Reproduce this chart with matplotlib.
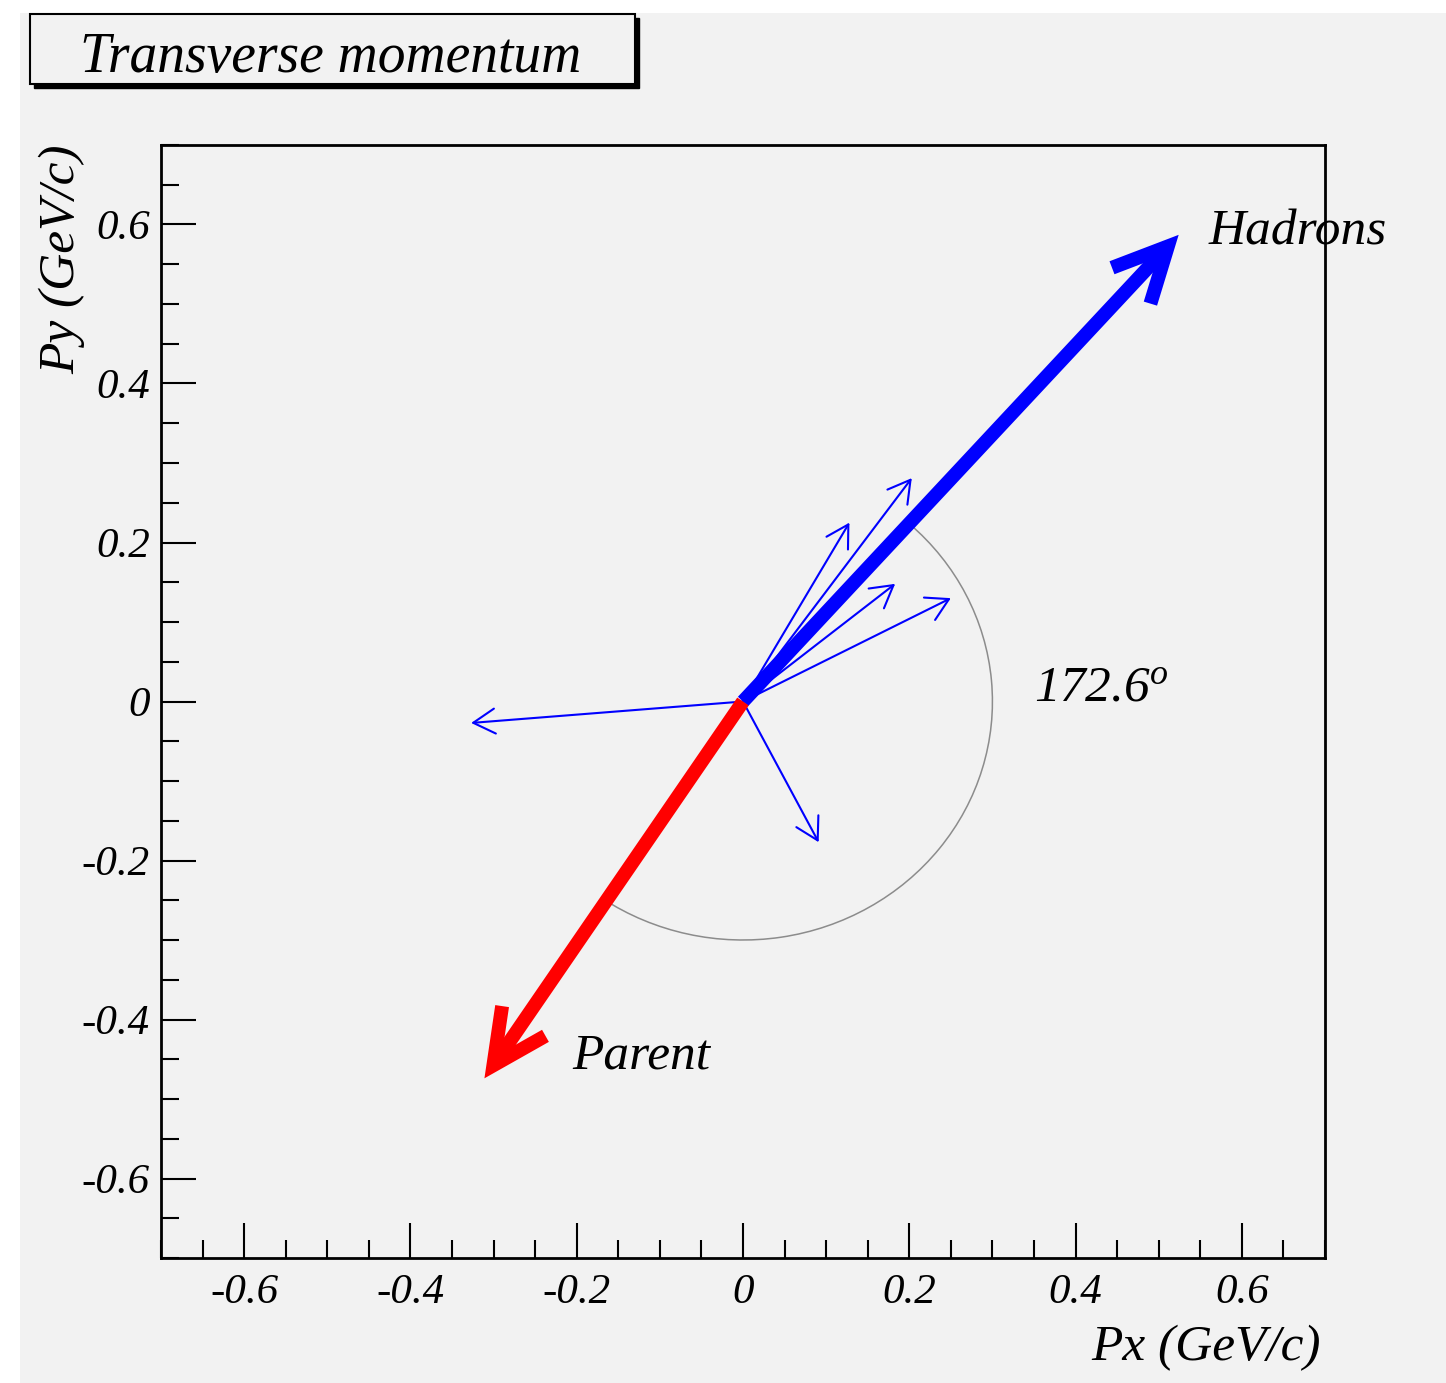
import numpy as np
import matplotlib
matplotlib.use('Agg')
import matplotlib.pyplot as plt
from matplotlib.patches import Arc, Rectangle
from matplotlib.ticker import MultipleLocator, FuncFormatter

# transverse momenta of the individual hadrons (GeV/c)
track_px = [-0.327, 0.091, 0.128, 0.203, 0.183, 0.250]
track_py = [-0.027, -0.177, 0.225, 0.281, 0.148, 0.130]
# summed hadron momentum and the parent momentum (GeV/c)
hadrons_p = (0.524, 0.587)
parent_p = (-0.311, -0.474)
# opening angle between the two (degrees)
opening_angle = 172.6

title = 'Transverse momentum'
xlabel = 'Px (GeV/c)'
ylabel = 'Py (GeV/c)'

bg = '#f2f2f2'
plt.rcParams['font.family'] = 'Liberation Serif'
plt.rcParams['font.style'] = 'italic'
plt.rcParams['mathtext.fontset'] = 'custom'
plt.rcParams['mathtext.it'] = 'Liberation Serif:italic'
plt.rcParams['mathtext.rm'] = 'Liberation Serif:italic'

W, H = 1446, 1383
fig = plt.figure(figsize=(W / 100, H / 100), dpi=100, facecolor='white')
fig.add_artist(Rectangle((20 / W, 0), 1, 1 - 13 / H, transform=fig.transFigure,
                         facecolor=bg, edgecolor='none', zorder=-10))

ax = fig.add_axes([161 / W, 125 / H, 1164 / W, 1113 / H])
ax.set_facecolor(bg)
ax.set_xlim(-0.7, 0.7)
ax.set_ylim(-0.7, 0.7)
for sp in ax.spines.values():
    sp.set_linewidth(2)

fmt = FuncFormatter(lambda v, _: f'{round(v, 2) + 0.0:g}')
for axis in (ax.xaxis, ax.yaxis):
    axis.set_major_locator(MultipleLocator(0.2))
    axis.set_minor_locator(MultipleLocator(0.05))
    axis.set_major_formatter(fmt)
ax.tick_params(which='both', direction='in', top=False, right=False, width=1.5)
ax.tick_params(which='major', length=25, labelsize=31)
ax.tick_params(which='minor', length=13)
ax.tick_params(axis='x', pad=11)
ax.tick_params(axis='y', pad=8)

ax.set_xlabel(xlabel, fontsize=37, loc='right')
ax.xaxis.set_label_coords(0.996, -0.060)
ax.set_ylabel(ylabel, fontsize=37, loc='top')
ax.yaxis.set_label_coords(-0.0653, 1.0)

# individual hadrons
for px, py in zip(track_px, track_py):
    ax.annotate('', xy=(px, py), xytext=(0, 0),
                arrowprops=dict(arrowstyle='->,head_length=0.87,head_width=0.5',
                                color='blue', lw=1.5, shrinkA=0, shrinkB=0,
                                mutation_scale=18),
                zorder=3)

# opening angle arc, measured clockwise from the hadron direction
phi_h = np.degrees(np.arctan2(hadrons_p[1], hadrons_p[0]))
ax.add_patch(Arc((0, 0), 0.6, 0.6, theta1=phi_h - opening_angle, theta2=phi_h,
                 color='#8c8c8c', lw=1.1, zorder=2))

thick = dict(arrowstyle='->,head_length=0.9,head_width=0.44', lw=10,
             shrinkA=0, shrinkB=0, mutation_scale=43,
             joinstyle='miter', capstyle='butt')
ax.annotate('', xy=hadrons_p, xytext=(0, 0),
            arrowprops=dict(color='blue', **thick), zorder=4)
ax.annotate('', xy=parent_p, xytext=(0, 0),
            arrowprops=dict(color='red', **thick), zorder=5)

ax.text(0.56, 0.575, 'Hadrons', fontsize=37)
ax.text(-0.205, -0.462, 'Parent', fontsize=37)
ax.text(0.35, 0.0, r'$\mathit{' + f'{opening_angle:.1f}' + r'}^{o}$', fontsize=37)

# title box with drop shadow
bw, bh = 605 / W, 70 / H
fig.add_artist(Rectangle((34 / W, 1 - 88 / H), bw, bh, transform=fig.transFigure,
                         facecolor='black', edgecolor='black', lw=1, zorder=5))
fig.add_artist(Rectangle((30 / W, 1 - 84 / H), bw, bh, transform=fig.transFigure,
                         facecolor=bg, edgecolor='black', lw=1.5, zorder=6))
fig.text(331 / W, 1 - 72 / H, title, fontsize=40, ha='center', va='baseline', zorder=7)

fig.savefig('out.png', dpi=100, facecolor=fig.get_facecolor())
